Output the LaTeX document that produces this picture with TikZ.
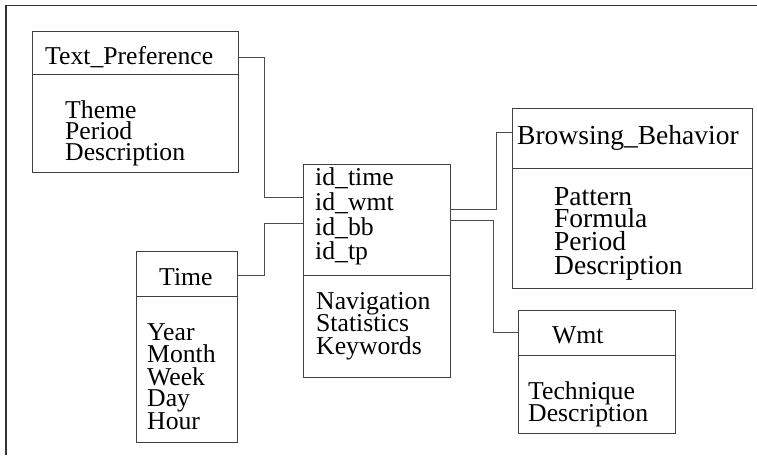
\documentclass[tikz,border=0pt]{standalone}
\usepackage{fontspec}
\setmainfont{Liberation Serif}
\begin{document}
\begin{tikzpicture}[x=1pt,y=-1pt,
  boxs/.style={draw=black!75,line width=1pt,anchor=north west,inner sep=0pt,outer sep=0pt},
  divl/.style={draw=black!75,line width=1pt},
  lbl/.style={anchor=base west,inner sep=0pt,font=\fontsize{25.7}{30}\selectfont},
  lblb/.style={anchor=base west,inner sep=0pt,font=\fontsize{27.5}{32}\selectfont},
  conn/.style={draw=black!70,line width=0.9pt}]
\useasboundingbox (0,0) rectangle (757,455);
\draw[line width=1.6pt,black!80] (6,455) -- (6,5.5) -- (757,5.5);

% Text_Preference
\node[boxs,minimum width=206pt,minimum height=141pt] (tp) at (32,31) {};
\draw[divl] (tp.west |- 0,74) -- (tp.east |- 0,74);
\node[lbl] (tpt) at (45,64) {Text\_Preference};
\node[lbl] (tp1) at (65,118.5) {Theme};
\node[lbl] (tp2) at (65,139.5) {Period};
\node[lbl] (tp3) at (65,160.5) {Description};

% Time
\node[boxs,minimum width=101pt,minimum height=191pt] (tm) at (136,251) {};
\draw[divl] (tm.west |- 0,296) -- (tm.east |- 0,296);
\node[lbl] (tmt) at (159,285) {Time};
\node[lbl] (tm1) at (147,340.7) {Year};
\node[lbl] (tm2) at (147,362.7) {Month};
\node[lbl] (tm3) at (147,385) {Week};
\node[lbl] (tm4) at (147,406.7) {Day};
\node[lbl] (tm5) at (147,429) {Hour};

% Central fact table
\node[boxs,minimum width=147pt,minimum height=213pt] (ct) at (303,164) {};
\draw[divl] (ct.west |- 0,275) -- (ct.east |- 0,275);
\node[lbl] (ct1) at (315,185) {id\_time};
\node[lbl] (ct2) at (315,210.7) {id\_wmt};
\node[lbl] (ct3) at (315,235) {id\_bb};
\node[lbl] (ct4) at (315,259.3) {id\_tp};
\node[lbl] (ct5) at (316,309) {Navigation};
\node[lbl] (ct6) at (316,331.7) {Statistics};
\node[lbl] (ct7) at (316,354) {Keywords};

% Browsing_Behavior
\node[boxs,minimum width=240pt,minimum height=180pt] (bb) at (512,108) {};
\draw[divl] (bb.west |- 0,168) -- (bb.east |- 0,168);
\node[lblb] (bbt) at (517,144) {Browsing\_Behavior};
\node[lblb] (bb1) at (554,205) {Pattern};
\node[lblb] (bb2) at (554,227.7) {Formula};
\node[lblb] (bb3) at (554,250.7) {Period};
\node[lblb] (bb4) at (554,274.3) {Description};

% Wmt
\node[boxs,minimum width=157pt,minimum height=123pt] (wm) at (518,310) {};
\draw[divl] (wm.west |- 0,355) -- (wm.east |- 0,355);
\node[lbl] (wmt) at (552,343.3) {Wmt};
\node[lbl] (wm1) at (528,399.3) {Technique};
\node[lbl] (wm2) at (528,421.7) {Description};

% connectors
\draw[conn] (tp.east |- 0,57) -- (264,57) |- (ct.west |- 0,197);
\draw[conn] (tm.east |- 0,275) -- (264,275) |- (ct.west |- 0,223);
\draw[conn] (ct.east |- 0,209) -- (496,209) |- (bb.west |- 0,132);
\draw[conn] (ct.east |- 0,220) -- (493,220) |- (wm.west |- 0,332);
\end{tikzpicture}
\end{document}
